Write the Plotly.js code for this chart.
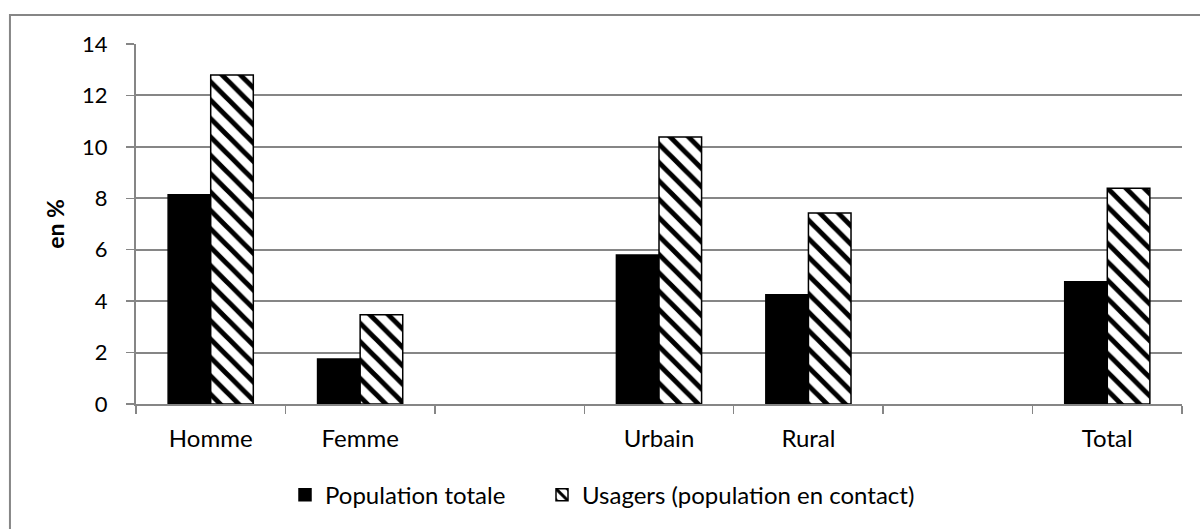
<!DOCTYPE html>
<html>
<head>
<meta charset="utf-8">
<script src="https://cdn.plot.ly/plotly-3.0.1.min.js"></script>
<style>
  html, body { margin: 0; padding: 0; background: #ffffff; }
  #chart { width: 1200px; height: 529px; }
</style>
</head>
<body>
<div id="chart"></div>
<script>
const categories = ["Homme", "Femme", " ", "Urbain", "Rural", "  ", "Total"];
const populationTotale = [8.14, 1.75, null, 5.79, 4.25, null, 4.75];
const usagers = [12.79, 3.47, null, 10.38, 7.43, null, 8.39];
const seriesNames = ["Population totale", "Usagers (population en contact)"];
const yTitle = "en %";

const FONT = "Lato, 'Open Sans', sans-serif";
const GREY = "#868686";

const traces = [
  {
    type: "bar",
    name: seriesNames[0],
    x: categories,
    y: populationTotale,
    legend: "legend",
    marker: { color: "#000000", line: { color: "#000000", width: 1.5 } },
    hoverinfo: "x+y"
  },
  {
    type: "bar",
    name: seriesNames[1],
    x: categories,
    y: usagers,
    legend: "legend2",
    marker: {
      color: "#ffffff",
      line: { color: "#000000", width: 1.5 },
      pattern: { shape: "\\", fgcolor: "#000000", bgcolor: "#ffffff", size: 13, solidity: 0.38 }
    },
    hoverinfo: "x+y"
  }
];

const legendBase = {
  orientation: "h",
  xref: "container",
  yref: "container",
  xanchor: "left",
  y: 0.064,
  yanchor: "middle",
  font: { family: FONT, size: 24, color: "#000000" },
  bgcolor: "rgba(0,0,0,0)"
};

const layout = {
  width: 1200,
  height: 529,
  margin: { l: 136, r: 18, t: 44, b: 125 },
  paper_bgcolor: "#ffffff",
  plot_bgcolor: "#ffffff",
  font: { family: FONT, size: 22, color: "#000000" },
  barmode: "group",
  bargap: 0.43,
  bargroupgap: 0,
  showlegend: true,
  legend: Object.assign({}, legendBase, { x: 285 / 1200 }),
  legend2: Object.assign({}, legendBase, { x: 542 / 1200 }),
  xaxis: {
    type: "category",
    categoryorder: "array",
    categoryarray: categories,
    showline: true,
    linecolor: GREY,
    linewidth: 2,
    ticks: "outside",
    tickson: "boundaries",
    ticklen: 8,
    tickcolor: GREY,
    tickwidth: 1.5,
    showgrid: false,
    zeroline: false,
    ticklabelstandoff: 12,
    tickfont: { family: FONT, size: 24, color: "#000000" },
    fixedrange: true
  },
  yaxis: {
    range: [0, 14],
    dtick: 2,
    tick0: 0,
    showline: true,
    linecolor: GREY,
    linewidth: 2,
    ticks: "outside",
    ticklen: 8,
    tickcolor: GREY,
    tickwidth: 1.5,
    showgrid: true,
    gridcolor: GREY,
    gridwidth: 2,
    zeroline: false,
    ticklabelstandoff: 14,
    tickfont: { family: FONT, size: 22, color: "#000000" },
    title: { text: "<b>" + yTitle + "</b>", font: { family: FONT, size: 23, color: "#000000" }, standoff: 11 },
    fixedrange: true
  },
  shapes: [
    {
      type: "rect",
      xref: "paper",
      yref: "paper",
      x0: -0.1205,
      x1: 1.0966,
      y0: -0.378,
      y1: 1.0806,
      line: { color: GREY, width: 2 },
      fillcolor: "rgba(0,0,0,0)",
      layer: "below"
    }
  ]
};

Plotly.newPlot("chart", traces, layout, { displayModeBar: false, staticPlot: true });
</script>
</body>
</html>
